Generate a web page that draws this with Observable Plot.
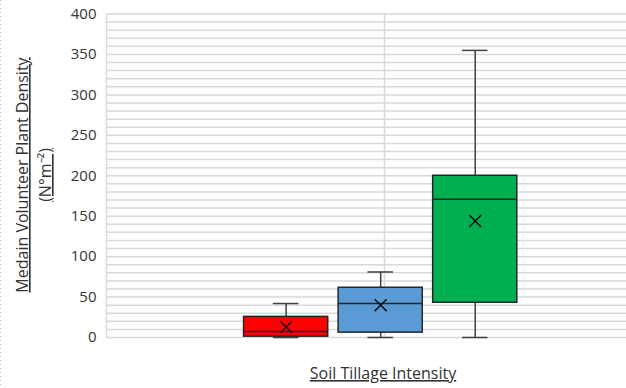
<!DOCTYPE html>
<html>
<head>
<meta charset="utf-8">
<script src="https://cdn.jsdelivr.net/npm/d3@7"></script>
<script src="https://cdn.jsdelivr.net/npm/@observablehq/plot@0.6"></script>
<style>
  html, body { margin: 0; padding: 0; background: #fff; }
  #chart { width: 626px; height: 388px; position: relative; }
</style>
</head>
<body>
<div id="chart"></div>
<script>
// ---- data ----
const seriesNames = ["Series 1", "Series 2", "Series 3"];
const positions   = [1, 2, 3];
const minVals     = [0, 0, 0];
const q1Vals      = [1, 6, 43];
const medianVals  = [7.5, 42, 171];
const q3Vals      = [25.5, 61.5, 200];
const maxVals     = [42, 81, 355];
const meanVals    = [13, 40, 144];
const fillColors  = ["#FF0000", "#5B9BD5", "#00B050"];
const yTicks      = [0, 50, 100, 150, 200, 250, 300, 350, 400];
const gridValues  = [0,10,20,30,40,50,60,70,80,90,100,110,120,130,140,150,160,170,180,190,200,
                     210,220,230,240,250,260,270,280,290,300,310,320,330,340,350,360,370,380,390,400];
const xDomain     = [-0.9, 4.6];
const categoryLine = 2.04;
const yTitle1 = "Medain Volunteer Plant Density";
const yTitle2 = "(N°m⁻²)";
const xTitle  = "Soil Tillage Intensity";

const rows = seriesNames.map((name, i) => ({
  name, pos: positions[i], min: minVals[i], q1: q1Vals[i], median: medianVals[i],
  q3: q3Vals[i], max: maxVals[i], mean: meanVals[i], color: fillColors[i]
}));

const hw = 0.445;   // half box width (x units)
const cap = 0.135;  // half whisker cap width

const chart = Plot.plot({
  width: 626,
  height: 388,
  marginLeft: 106,
  marginRight: 0,
  marginTop: 13.5,
  marginBottom: 51,
  style: { fontFamily: "'Open Sans', sans-serif", fontSize: "15px", color: "#333333", background: "white" },
  x: { domain: xDomain, axis: null },
  y: { domain: [0, 400], ticks: yTicks, tickSize: 0, tickPadding: 10, label: null },
  color: { type: "identity" },
  marks: [
    Plot.ruleY(gridValues, { stroke: "#d9d9d9", strokeWidth: 1.5 }),
    Plot.ruleX([xDomain[0]], { y1: 0, y2: 400, stroke: "#d9d9d9", strokeWidth: 1.5 }),
    Plot.ruleX([categoryLine], { y1: 0, y2: 400, stroke: "#d9d9d9", strokeWidth: 1.5 }),
    Plot.ruleX(rows, { x: "pos", y1: "min", y2: "max", stroke: "#404040", strokeWidth: 1.5 }),
    Plot.ruleY(rows, { y: "min", x1: d => d.pos - cap, x2: d => d.pos + cap, stroke: "#404040", strokeWidth: 1.5 }),
    Plot.ruleY(rows, { y: "max", x1: d => d.pos - cap, x2: d => d.pos + cap, stroke: "#404040", strokeWidth: 1.5 }),
    Plot.rect(rows, { x1: d => d.pos - hw, x2: d => d.pos + hw, y1: "q1", y2: "q3", fill: "color", stroke: "#262626", strokeWidth: 1.5 }),
    Plot.ruleY(rows, { y: "median", x1: d => d.pos - hw, x2: d => d.pos + hw, stroke: "#262626", strokeWidth: 1.5 }),
    Plot.dot(rows, { x: "pos", y: "mean", symbol: "times", r: 5.5, stroke: "#111", strokeWidth: 1.5 })
  ]
});

const svg = d3.select(chart);
svg.append("line")
  .attr("x1", 0.5).attr("x2", 0.5).attr("y1", 0).attr("y2", 388)
  .attr("stroke", "#bfbfbf").attr("stroke-dasharray", "1,3");

svg.append("text")
  .attr("transform", "translate(28,175) rotate(-90)")
  .attr("text-anchor", "middle")
  .attr("fill", "#333333")
  .style("font-size", "16px")
  .style("text-decoration", "underline")
  .text(yTitle1);

svg.append("text")
  .attr("transform", "translate(51,175) rotate(-90)")
  .attr("text-anchor", "middle")
  .attr("fill", "#333333")
  .style("font-size", "16px")
  .style("text-decoration", "underline")
  .text(yTitle2);

svg.append("text")
  .attr("x", 383).attr("y", 379)
  .attr("text-anchor", "middle")
  .attr("fill", "#333333")
  .style("font-size", "16px")
  .style("text-decoration", "underline")
  .text(xTitle);

document.getElementById("chart").appendChild(chart);
</script>
</body>
</html>
